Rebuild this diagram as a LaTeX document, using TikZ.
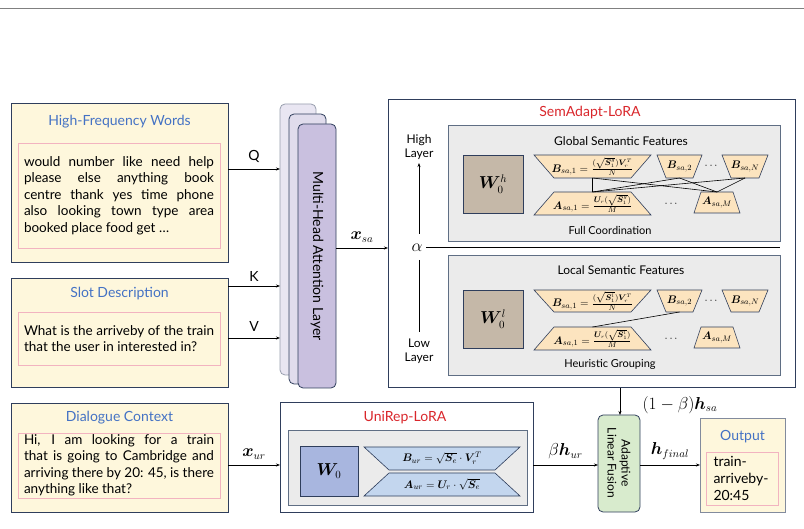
\documentclass[tikz,border=0pt]{standalone}
\usepackage{amsmath}
\usepackage{amssymb}
\usepackage{bm}
\usepackage[no-math]{fontspec}
\setmainfont{Lato}
\usetikzlibrary{arrows.meta}
\usetikzlibrary{calc}

\definecolor{navy}{HTML}{2F3E5C}
\definecolor{paper}{HTML}{FEF7DC}
\definecolor{titleblue}{HTML}{4472C4}
\definecolor{pinkline}{HTML}{F2B3C0}
\definecolor{attnfront}{HTML}{C9C0DF}
\definecolor{attnback}{HTML}{E0DCEC}
\definecolor{panelgray}{HTML}{EBEBEB}
\definecolor{panelline}{HTML}{5F6E84}
\definecolor{tan}{HTML}{C5B8A8}
\definecolor{peach}{HTML}{FCE4BF}
\definecolor{skyblue}{HTML}{C3D6EE}
\definecolor{wblue}{HTML}{A8B6DF}
\definecolor{fusegreen}{HTML}{D8EBCD}
\definecolor{loraRed}{HTML}{D9262B}

\newcommand\nohyph{\hyphenchar\font=-1\relax}
\tikzset{
  inbox/.style={draw=navy,fill=paper,line width=0.8pt},
  words/.style={draw=pinkline,line width=0.8pt},
  heading/.style={text=titleblue,font=\fontsize{14}{16}\selectfont},
  body/.style={font=\fontsize{13.5}{16.5}\selectfont\nohyph,text width=190pt,align=justify,inner sep=0pt},
  attn/.style={draw=navy,rounded corners=5pt,line width=0.8pt},
  panel/.style={draw=panelline,fill=panelgray,line width=0.8pt},
  trapbox/.style={draw=navy,line width=0.6pt},
  flow/.style={-{Stealth[length=4pt,width=3pt]},line width=0.7pt},
  lbl/.style={font=\fontsize{14}{16}\selectfont},
  mid/.style={font=\fontsize{12}{14}\selectfont},
  tiny/.style={font=\fontsize{11}{13}\selectfont},
  bigmath/.style={font=\fontsize{16}{18}\selectfont}
}
\newcommand\trapfill{peach}
% name, x1, x2, ytop, ybot, top inset, bottom inset, text
\newcommand\trap[8]{%
  \draw[trapbox,fill=\trapfill] (#2+#6,#4) -- (#3-#6,#4) -- (#3-#7,#5) -- (#2+#7,#5) -- cycle;
  \node[inner sep=0pt,font=\fontsize{11}{12}\selectfont] (#1) at ({(#2+#3)/2},{(#4+#5)/2}) {#8};
  \coordinate (#1-t) at ({(#2+#3)/2},#4);
  \coordinate (#1-b) at ({(#2+#3)/2},#5);}

\begin{document}
\begin{tikzpicture}[x=1pt,y=-1pt]
\useasboundingbox (0,0) rectangle (804,529);
\draw[gray,line width=0.4pt] (0,8) -- (804,8);

% input boxes
\draw[inbox] (11,103) rectangle (228,262);
\node[heading] (hfw) at (119.5,122) {High-Frequency Words};
\draw[words] (18,143) rectangle (220,248);
\node[body] (hfwtext) at (119,195.5) {would number like need help please else anything book centre thank yes time phone also looking town type area booked place food get \dots};

\draw[inbox] (11,278) rectangle (228,387);
\node[heading] (slot) at (119.5,294) {Slot Description};
\draw[words] (18,312) rectangle (220,365);
\node[body] (slottext) at (119,338.5) {What is the arriveby of the train that the user in interested in?};

\draw[inbox] (11,403) rectangle (228,512);
\node[heading] (dlg) at (119.5,418) {Dialogue Context};
\draw[words] (18,433) rectangle (220,498);
\node[body] (dlgtext) at (119,465.5) {Hi, I am looking for a train that is going to Cambridge and arriving there by 20: 45, is there anything like that?};

% attention layers
\draw[attn,draw=navy!50,fill=attnback!70] (280,104) rectangle (316,375);
\draw[attn,fill=attnback] (289,114) rectangle (326,384);
\draw[attn,fill=attnfront] (298,124) rectangle (336,388);
\node[rotate=-90,lbl] (mha) at (317,256) {Multi-Head Attention Layer};

\draw[flow] (228,169) -- (280,169) node[midway,above=3pt,lbl] (q) {Q};
\draw[flow] (228,286) -- (280,286) node[midway,above=1pt,lbl] (k) {K};
\draw[flow] (228,338) -- (280,338) node[midway,above=3pt,lbl] (v) {V};

% SemAdapt-LoRA
\draw[draw=navy,line width=1pt] (388,100) rectangle (795,388);
\node[text=loraRed,lbl] (semtitle) at (590,113) {SemAdapt-LoRA};
\draw[flow] (336,248) -- (388,248) node[midway,above=2pt,bigmath] (xsa) {$\bm{x}_{sa}$};

\node[mid,align=center] (high) at (419,147) {High\\Layer};
\node[mid,align=center] (low) at (419,351) {Low\\Layer};
\node[bigmath] (alpha) at (417,248) {$\alpha$};
\draw[flow] (419,234) -- (419,163);
\draw[line width=0.7pt] (419,260) -- (419,332);
\draw[line width=0.7pt] (426,247) -- (780,247);

\draw[panel] (448,125) rectangle (780,241);
\node[mid] (glob) at (621,141) {Global Semantic Features};
\draw[trapbox,fill=tan] (463,155) rectangle (523,213);
\node[bigmath] (wh) at (493,184) {$\bm{W}_0^h$};
\trap{gb1}{534}{651}{155}{178}{0}{20}{$\bm{B}_{sa,1}=\frac{(\sqrt{\bm{S}_1^g})\bm{V}_r^T}{N}$}
\trap{gb2}{657}{702}{155}{178}{0}{9}{$\bm{B}_{sa,2}$}
\trap{gbn}{722}{768}{155}{178}{0}{9}{$\bm{B}_{sa,N}$}
\trap{ga1}{534}{651}{192}{215}{20}{0}{$\bm{A}_{sa,1}=\frac{\bm{U}_r(\sqrt{\bm{S}_1^g})}{M}$}
\trap{gam}{694}{740}{192}{213}{7}{0}{$\bm{A}_{sa,M}$}
\node[tiny] (gd1) at (712,166) {$\cdots$};
\node[tiny] (gd2) at (672,204) {$\cdots$};
\foreach \b in {gb1,gb2,gbn}
  \foreach \a in {ga1,gam}
    \draw[line width=0.6pt] (\b-b) -- (\a-t);
\node[tiny] (full) at (610,230) {Full Coordination};

\draw[panel] (448,255) rectangle (780,375);
\node[mid] (loc) at (621,270) {Local Semantic Features};
\draw[trapbox,fill=tan] (463,290) rectangle (523,348);
\node[bigmath] (wl) at (493,319) {$\bm{W}_0^l$};
\trap{lb1}{534}{651}{290}{312}{0}{20}{$\bm{B}_{sa,1}=\frac{(\sqrt{\bm{S}_1^l})\bm{V}_r^T}{N}$}
\trap{lb2}{657}{702}{290}{312}{0}{9}{$\bm{B}_{sa,2}$}
\trap{lbn}{722}{768}{290}{312}{0}{9}{$\bm{B}_{sa,N}$}
\trap{la1}{534}{651}{327}{350}{20}{0}{$\bm{A}_{sa,1}=\frac{\bm{U}_r(\sqrt{\bm{S}_1^l})}{M}$}
\trap{lam}{694}{740}{327}{348}{7}{0}{$\bm{A}_{sa,M}$}
\node[tiny] (ld1) at (712,301) {$\cdots$};
\node[tiny] (ld2) at (672,339) {$\cdots$};
\draw[line width=0.6pt] (lb2-b) -- (la1-t);
\node[tiny] (heur) at (610,364) {Heuristic Grouping};

% UniRep-LoRA
\draw[draw=navy,line width=1pt] (280,403) rectangle (533,512);
\node[text=loraRed,lbl] (unititle) at (405,418) {UniRep-LoRA};
\draw[panel] (288,430) rectangle (527,505);
\draw[trapbox,fill=wblue] (300,446) rectangle (358,496);
\node[bigmath] (w0) at (329,471) {$\bm{W}_0$};
\renewcommand\trapfill{skyblue}
\trap{bur}{364}{520}{447}{470}{0}{25}{$\bm{B}_{ur}=\sqrt{\bm{S}_e}\cdot\bm{V}_r^T$}
\trap{aur}{364}{520}{473}{496}{25}{0}{$\bm{A}_{ur}=\bm{U}_r\cdot\sqrt{\bm{S}_e}$}
\draw[flow] (228,465) -- (280,465) node[midway,above=2pt,bigmath] (xur) {$\bm{x}_{ur}$};

% fusion and output
\draw[draw=navy,fill=fusegreen,rounded corners=5pt,line width=0.8pt] (598,415) rectangle (640,512);
\node[rotate=-90,align=center,mid] (fuse) at (619,463) {Adaptive\\Linear Fusion};
\draw[flow] (620,388) -- (620,415);
\node[bigmath] (hsa) at (680,405) {$(1-\beta)\bm{h}_{sa}$};
\draw[flow] (533,465) -- (598,465) node[midway,above=2pt,bigmath] (hur) {$\beta\bm{h}_{ur}$};
\draw[flow] (640,465) -- (700,465) node[midway,above=2pt,bigmath] (hfin) {$\bm{h}_{final}$};

\draw[draw=navy!60,fill=paper,line width=0.8pt] (700,418) rectangle (785,512);
\node[heading] (out) at (742.5,437) {Output};
\draw[words] (706,452) rectangle (778,505);
\node[align=left,font=\fontsize{14}{17}\selectfont] (outtext) at (741,478.5) {train-\\arriveby-\\20:45};
\end{tikzpicture}
\end{document}
